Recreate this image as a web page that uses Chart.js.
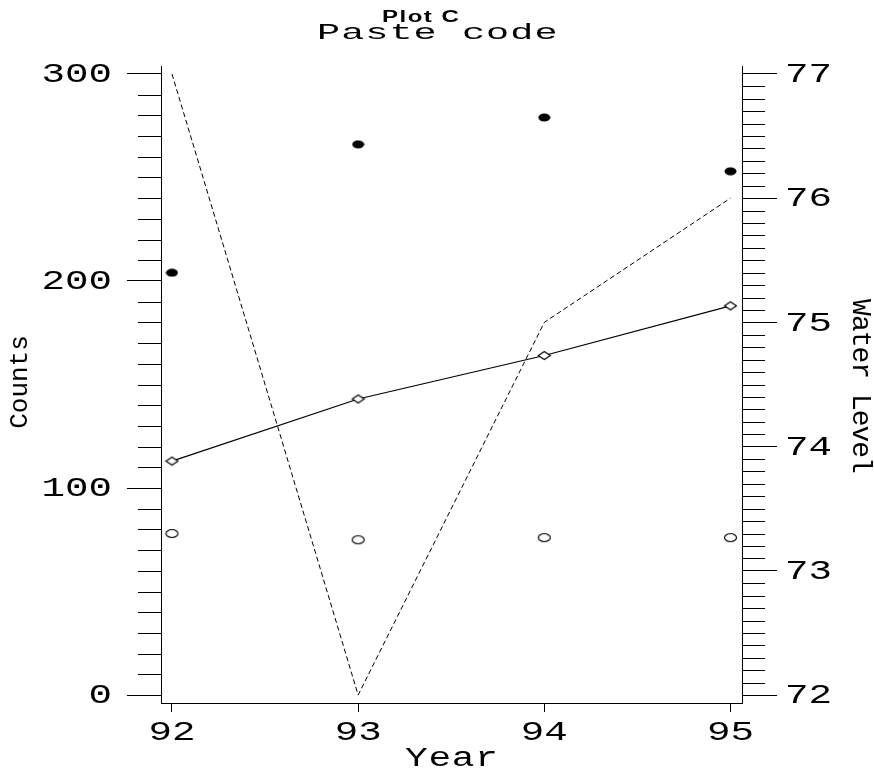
<!DOCTYPE html>
<html>
<head>
<meta charset="utf-8">
<script src="https://cdn.jsdelivr.net/npm/chart.js@4.4.1/dist/chart.umd.min.js"></script>
<style>
    html, body { margin: 0; padding: 0; background: #ffffff; }
    #wrap { width: 874px; height: 774px; }
</style>
</head>
<body>
<div id="wrap"><canvas id="chart" width="874" height="774"></canvas></div>
<script>
const years = [92, 93, 94, 95];
const filledCounts = [204, 266, 279, 253];
const openCounts = [78, 75, 76, 76];
const diamondCounts = [113, 143, 164, 188];
const waterLevel = [77, 72, 75, 76];
const countTicks = [0, 100, 200, 300];
const levelTicks = [72, 73, 74, 75, 76, 77];

const monoFont = "'Liberation Mono', 'DejaVu Sans Mono', monospace";
const tickFont = "27px " + monoFont;
const tickStretch = 1.45;

const toPoints = (values) => values.map((v, i) => ({ x: years[i], y: v }));

// small marker images, SAS draws its symbols a bit wider than tall
const makeMarker = (w, h, draw) => {
    const c = document.createElement("canvas");
    c.width = w;
    c.height = h;
    const g = c.getContext("2d");
    draw(g, w, h);
    return c;
};

const filledDot = makeMarker(13, 9, (g, w, h) => {
    g.fillStyle = "#000";
    g.beginPath();
    g.ellipse(w / 2, h / 2, 6, 4, 0, 0, Math.PI * 2);
    g.fill();
});

const openDot = makeMarker(15, 11, (g, w, h) => {
    g.fillStyle = "#fff";
    g.strokeStyle = "#000";
    g.lineWidth = 1.2;
    g.beginPath();
    g.ellipse(w / 2, h / 2, 6, 4, 0, 0, Math.PI * 2);
    g.fill();
    g.stroke();
});

const diamond = makeMarker(15, 11, (g, w, h) => {
    g.fillStyle = "#fff";
    g.strokeStyle = "#000";
    g.lineWidth = 1.2;
    g.beginPath();
    g.moveTo(1.5, h / 2);
    g.lineTo(w / 2, 1.5);
    g.lineTo(w - 1.5, h / 2);
    g.lineTo(w / 2, h - 1.5);
    g.closePath();
    g.fill();
    g.stroke();
});

const minorTicks = {
    id: "minorTicks",
    afterDraw(chart) {
        const ctx = chart.ctx;
        const area = chart.chartArea;
        const left = chart.scales.y;
        const right = chart.scales.y2;
        ctx.save();
        ctx.strokeStyle = "#000";
        ctx.lineWidth = 1;
        ctx.beginPath();
        for (let v = 0; v <= 300; v += 10) {
            if (v % 100 === 0) continue;
            const y = Math.round(left.getPixelForValue(v)) + 0.5;
            ctx.moveTo(area.left - 23, y);
            ctx.lineTo(area.left, y);
        }
        for (let k = 720; k <= 770; k++) {
            if (k % 10 === 0) continue;
            const y = Math.round(right.getPixelForValue(k / 10)) + 0.5;
            ctx.moveTo(area.right, y);
            ctx.lineTo(area.right + 23, y);
        }
        ctx.stroke();
        ctx.restore();
    },
};

// SAS hardware font is wide, so stretch the text sideways
const wideText = (ctx, text, x, y, font, stretch, spacing, align = "left", baseline = "alphabetic") => {
    ctx.save();
    ctx.translate(x, y);
    ctx.scale(stretch, 1);
    ctx.font = font;
    ctx.letterSpacing = spacing;
    ctx.textAlign = align;
    ctx.textBaseline = baseline;
    ctx.fillText(text, 0, 0);
    ctx.restore();
};

const wideLabels = {
    id: "wideLabels",
    afterDraw(chart) {
        const ctx = chart.ctx;
        const area = chart.chartArea;
        const { x, y, y2 } = chart.scales;
        ctx.save();
        ctx.fillStyle = "#000";

        countTicks.forEach((v) => {
            wideText(ctx, String(v), area.left - 49, y.getPixelForValue(v) + 1, tickFont, tickStretch, "0px", "right", "middle");
        });
        levelTicks.forEach((v) => {
            wideText(ctx, String(v), area.right + 43, y2.getPixelForValue(v) + 1, tickFont, tickStretch, "0px", "left", "middle");
        });
        years.forEach((v) => {
            wideText(ctx, String(v), x.getPixelForValue(v), 740, tickFont, tickStretch, "0px", "center");
        });

        wideText(ctx, "Plot C", 382, 22, "bold 16px 'Liberation Sans', Arial, sans-serif", 1.5, "1px");
        wideText(ctx, "Paste code", 317, 39, "22px " + monoFont, 1.75, "0.6px");
        wideText(ctx, "Year", 405, 766, "27px " + monoFont, 1.4, "0.5px");

        ctx.letterSpacing = "0px";
        ctx.font = "26px " + monoFont;
        ctx.save();
        ctx.translate(27, 382);
        ctx.rotate(-Math.PI / 2);
        ctx.textAlign = "center";
        ctx.fillText("Counts", 0, 0);
        ctx.restore();

        ctx.letterSpacing = "-1px";
        ctx.font = "28px " + monoFont;
        ctx.save();
        ctx.translate(853, 386);
        ctx.rotate(Math.PI / 2);
        ctx.textAlign = "center";
        ctx.fillText("Water Level", 0, 0);
        ctx.restore();

        ctx.restore();
        ctx.letterSpacing = "0px";
    },
};

new Chart(document.getElementById("chart"), {
    type: "scatter",
    data: {
        datasets: [
            {
                data: toPoints(waterLevel),
                yAxisID: "y2",
                showLine: true,
                borderColor: "#000",
                borderWidth: 1,
                borderDash: [5, 3],
                pointRadius: 0,
            },
            {
                data: toPoints(diamondCounts),
                yAxisID: "y",
                showLine: true,
                borderColor: "#000",
                borderWidth: 1.2,
                pointStyle: diamond,
            },
            {
                data: toPoints(filledCounts),
                yAxisID: "y",
                pointStyle: filledDot,
            },
            {
                data: toPoints(openCounts),
                yAxisID: "y",
                pointStyle: openDot,
            },
        ],
    },
    options: {
        responsive: false,
        animation: false,
        layout: { padding: { top: 66, left: 0, right: 0, bottom: 0 } },
        plugins: {
            legend: { display: false },
            tooltip: { enabled: false },
            title: { display: false },
        },
        scales: {
            x: {
                type: "linear",
                position: "bottom",
                min: 91.941,
                max: 95.062,
                afterBuildTicks: (scale) => {
                    scale.ticks = years.map((v) => ({ value: v }));
                },
                afterFit: (scale) => {
                    scale.height = 71;
                },
                grid: {
                    drawOnChartArea: false,
                    tickLength: 9,
                    tickColor: "#000",
                },
                border: { display: true, color: "#000", width: 1 },
                ticks: { display: false },
            },
            y: {
                type: "linear",
                position: "left",
                min: -3.86,
                max: 303.86,
                afterBuildTicks: (scale) => {
                    scale.ticks = countTicks.map((v) => ({ value: v }));
                },
                afterFit: (scale) => {
                    scale.width = 161;
                },
                grid: {
                    drawOnChartArea: false,
                    tickLength: 34,
                    tickColor: "#000",
                },
                border: { display: true, color: "#000", width: 1 },
                ticks: { display: false },
            },
            y2: {
                type: "linear",
                position: "right",
                min: 71.936,
                max: 77.064,
                afterBuildTicks: (scale) => {
                    scale.ticks = levelTicks.map((v) => ({ value: v }));
                },
                afterFit: (scale) => {
                    scale.width = 132;
                },
                grid: {
                    drawOnChartArea: false,
                    tickLength: 35,
                    tickColor: "#000",
                },
                border: { display: true, color: "#000", width: 1 },
                ticks: { display: false },
            },
        },
    },
    plugins: [minorTicks, wideLabels],
});
</script>
</body>
</html>
